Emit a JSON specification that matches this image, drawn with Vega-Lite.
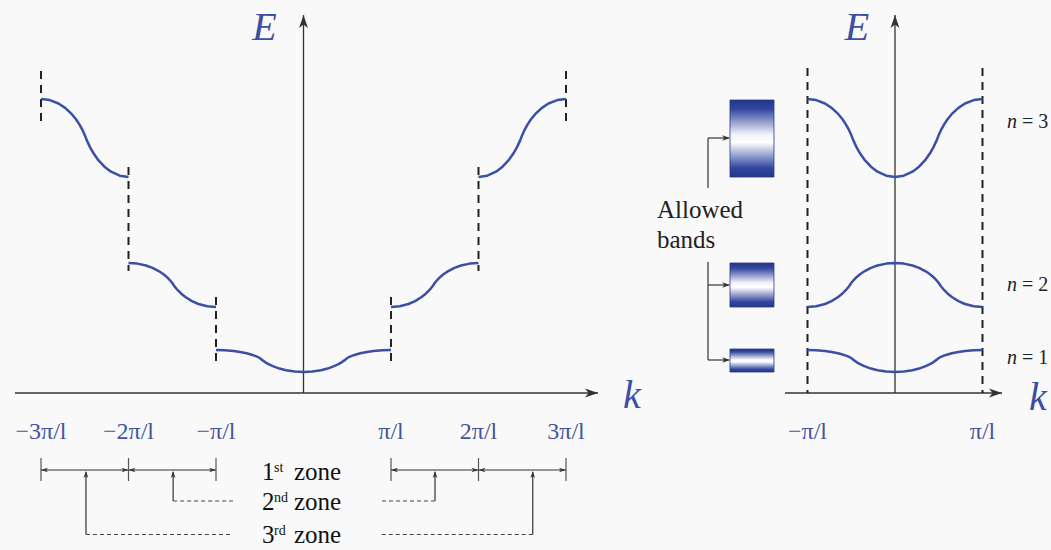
{
 "$schema": "https://vega.github.io/schema/vega-lite/v6.json",
 "padding": 0,
 "spacing": 0,
 "bounds": "flush",
 "background": "#f9f9fa",
 "config": {"view": {"stroke": null}, "font": "Liberation Serif"},
 "datasets": {
  "axesL": [{"k": -3.297, "k2": 3.366, "E": 0, "E2": 0}, {"k": 0, "k2": 0, "E": 0, "E2": 378}],
  "arrowsL": [{"k": 3.366, "E": 0, "dir": "right"}, {"k": 0, "E": 378, "dir": "up"}],
  "dashL": [
   {"k": -3, "E": 322, "E2": 270}, {"k": 3, "E": 322, "E2": 270},
   {"k": -2, "E": 226, "E2": 122}, {"k": 2, "E": 226, "E2": 122},
   {"k": -1, "E": 96, "E2": 30}, {"k": 1, "E": 96, "E2": 30}
  ],
  "curvesL": [
   {"s":"z3L","k":-3,"E":294},{"s":"z3L","k":-2.9,"E":292.89},{"s":"z3L","k":-2.8,"E":289.47},{"s":"z3L","k":-2.725,"E":285.17},{"s":"z3L","k":-2.65,"E":279.07},{"s":"z3L","k":-2.6,"E":273.7},{"s":"z3L","k":-2.56,"E":268.41},{"s":"z3L","k":-2.525,"E":262.8},{"s":"z3L","k":-2.5,"E":258},{"s":"z3L","k":-2.475,"E":252.4},{"s":"z3L","k":-2.44,"E":245.85},{"s":"z3L","k":-2.4,"E":239.68},{"s":"z3L","k":-2.35,"E":233.42},{"s":"z3L","k":-2.275,"E":226.3},{"s":"z3L","k":-2.2,"E":221.29},{"s":"z3L","k":-2.1,"E":217.29},{"s":"z3L","k":-2,"E":216},
   {"s":"z2L","k":-2,"E":130},{"s":"z2L","k":-1.9,"E":129.38},{"s":"z2L","k":-1.8,"E":127.48},{"s":"z2L","k":-1.725,"E":125.1},{"s":"z2L","k":-1.65,"E":121.7},{"s":"z2L","k":-1.6,"E":118.72},{"s":"z2L","k":-1.56,"E":115.79},{"s":"z2L","k":-1.525,"E":112.67},{"s":"z2L","k":-1.5,"E":110},{"s":"z2L","k":-1.475,"E":106.8},{"s":"z2L","k":-1.44,"E":103.06},{"s":"z2L","k":-1.4,"E":99.53},{"s":"z2L","k":-1.35,"E":95.96},{"s":"z2L","k":-1.275,"E":91.88},{"s":"z2L","k":-1.2,"E":89.02},{"s":"z2L","k":-1.1,"E":86.74},{"s":"z2L","k":-1,"E":86},
   {"s":"z1","k":-1,"E":43},{"s":"z1","k":-0.9,"E":42.75},{"s":"z1","k":-0.8,"E":41.99},{"s":"z1","k":-0.725,"E":41.04},{"s":"z1","k":-0.65,"E":39.68},{"s":"z1","k":-0.6,"E":38.49},{"s":"z1","k":-0.56,"E":37.31},{"s":"z1","k":-0.525,"E":36.07},{"s":"z1","k":-0.5,"E":35},{"s":"z1","k":-0.475,"E":33.13},{"s":"z1","k":-0.44,"E":30.95},{"s":"z1","k":-0.4,"E":28.89},{"s":"z1","k":-0.35,"E":26.81},{"s":"z1","k":-0.275,"E":24.43},{"s":"z1","k":-0.2,"E":22.76},{"s":"z1","k":-0.1,"E":21.43},{"s":"z1","k":0,"E":21},{"s":"z1","k":0.1,"E":21.43},{"s":"z1","k":0.2,"E":22.76},{"s":"z1","k":0.275,"E":24.43},{"s":"z1","k":0.35,"E":26.81},{"s":"z1","k":0.4,"E":28.89},{"s":"z1","k":0.44,"E":30.95},{"s":"z1","k":0.475,"E":33.13},{"s":"z1","k":0.5,"E":35},{"s":"z1","k":0.525,"E":36.07},{"s":"z1","k":0.56,"E":37.31},{"s":"z1","k":0.6,"E":38.49},{"s":"z1","k":0.65,"E":39.68},{"s":"z1","k":0.725,"E":41.04},{"s":"z1","k":0.8,"E":41.99},{"s":"z1","k":0.9,"E":42.75},{"s":"z1","k":1,"E":43},
   {"s":"z2R","k":1,"E":86},{"s":"z2R","k":1.1,"E":86.74},{"s":"z2R","k":1.2,"E":89.02},{"s":"z2R","k":1.275,"E":91.88},{"s":"z2R","k":1.35,"E":95.96},{"s":"z2R","k":1.4,"E":99.53},{"s":"z2R","k":1.44,"E":103.06},{"s":"z2R","k":1.475,"E":106.8},{"s":"z2R","k":1.5,"E":110},{"s":"z2R","k":1.525,"E":112.67},{"s":"z2R","k":1.56,"E":115.79},{"s":"z2R","k":1.6,"E":118.72},{"s":"z2R","k":1.65,"E":121.7},{"s":"z2R","k":1.725,"E":125.1},{"s":"z2R","k":1.8,"E":127.48},{"s":"z2R","k":1.9,"E":129.38},{"s":"z2R","k":2,"E":130},
   {"s":"z3R","k":2,"E":216},{"s":"z3R","k":2.1,"E":217.29},{"s":"z3R","k":2.2,"E":221.29},{"s":"z3R","k":2.275,"E":226.3},{"s":"z3R","k":2.35,"E":233.42},{"s":"z3R","k":2.4,"E":239.68},{"s":"z3R","k":2.44,"E":245.85},{"s":"z3R","k":2.475,"E":252.4},{"s":"z3R","k":2.5,"E":258},{"s":"z3R","k":2.525,"E":262.8},{"s":"z3R","k":2.56,"E":268.41},{"s":"z3R","k":2.6,"E":273.7},{"s":"z3R","k":2.65,"E":279.07},{"s":"z3R","k":2.725,"E":285.17},{"s":"z3R","k":2.8,"E":289.47},{"s":"z3R","k":2.9,"E":292.89},{"s":"z3R","k":3,"E":294}
  ],
  "ticksL": [{"k": -3, "E": -39, "t": "−3π/l"}, {"k": -2, "E": -39, "t": "−2π/l"}, {"k": -1, "E": -39, "t": "−π/l"}, {"k": 1, "E": -39, "t": "π/l"}, {"k": 2, "E": -39, "t": "2π/l"}, {"k": 3, "E": -39, "t": "3π/l"}],
  "brH": [{"k": -3, "k2": -2, "E": -77, "E2": -77}, {"k": -2, "k2": -1, "E": -77, "E2": -77}, {"k": 1, "k2": 2, "E": -77, "E2": -77}, {"k": 2, "k2": 3, "E": -77, "E2": -77}],
  "brV": [{"k": -3, "E": -65, "E2": -88}, {"k": -2, "E": -65, "E2": -88}, {"k": -1, "E": -65, "E2": -88}, {"k": 1, "E": -65, "E2": -88}, {"k": 2, "E": -65, "E2": -88}, {"k": 3, "E": -65, "E2": -88}],
  "brA": [
   {"k": -3, "E": -77, "dir": "left"}, {"k": -2, "E": -77, "dir": "right"}, {"k": -2, "E": -77, "dir": "left"}, {"k": -1, "E": -77, "dir": "right"},
   {"k": 1, "E": -77, "dir": "left"}, {"k": 2, "E": -77, "dir": "right"}, {"k": 2, "E": -77, "dir": "left"}, {"k": 3, "E": -77, "dir": "right"},
   {"k": -1.49, "E": -78, "dir": "up"}, {"k": 1.503, "E": -78, "dir": "up"}, {"k": -2.486, "E": -78, "dir": "up"}, {"k": 2.62, "E": -78, "dir": "up"}
  ],
  "ptV": [{"k": -1.49, "E": -79, "E2": -108}, {"k": 1.503, "E": -79, "E2": -108}, {"k": -2.486, "E": -79, "E2": -141.5}, {"k": 2.62, "E": -79, "E2": -141.5}],
  "ptD": [{"k": -1.49, "k2": -0.806, "E": -108, "E2": -108}, {"k": -2.486, "k2": -0.806, "E": -141.5, "E2": -141.5}, {"k": 1.503, "k2": 0.874, "E": -108, "E2": -108}, {"k": 2.62, "k2": 0.874, "E": -141.5, "E2": -141.5}],
  "zNum": [{"k": -0.474, "E": -87, "t": "1"}, {"k": -0.474, "E": -117, "t": "2"}, {"k": -0.474, "E": -150, "t": "3"}],
  "zSup": [{"k": -0.337, "E": -79, "t": "st"}, {"k": -0.337, "E": -109, "t": "nd"}, {"k": -0.337, "E": -142, "t": "rd"}],
  "zWord": [{"k": -0.109, "E": -87, "t": "zone"}, {"k": -0.109, "E": -117, "t": "zone"}, {"k": -0.109, "E": -150, "t": "zone"}],
  "lblL": [{"k": -0.446, "E": 353, "t": "E"}, {"k": 3.754, "E": -15, "t": "k"}],
  "axesR": [{"k": -1.257, "k2": 1.223, "E": 0, "E2": 0}, {"k": 0, "k2": 0, "E": 0, "E2": 378}],
  "arrowsR": [{"k": 1.223, "E": 0, "dir": "right"}, {"k": 0, "E": 378, "dir": "up"}],
  "dashR": [{"k": -1, "E": 325, "E2": 0}, {"k": 1, "E": 325, "E2": 0}],
  "curvesR": [
   {"s":"n1","k":-1,"E":43},{"s":"n1","k":-0.9,"E":42.75},{"s":"n1","k":-0.8,"E":41.99},{"s":"n1","k":-0.725,"E":41.04},{"s":"n1","k":-0.65,"E":39.68},{"s":"n1","k":-0.6,"E":38.49},{"s":"n1","k":-0.56,"E":37.31},{"s":"n1","k":-0.525,"E":36.07},{"s":"n1","k":-0.5,"E":35},{"s":"n1","k":-0.475,"E":33.13},{"s":"n1","k":-0.44,"E":30.95},{"s":"n1","k":-0.4,"E":28.89},{"s":"n1","k":-0.35,"E":26.81},{"s":"n1","k":-0.275,"E":24.43},{"s":"n1","k":-0.2,"E":22.76},{"s":"n1","k":-0.1,"E":21.43},{"s":"n1","k":0,"E":21},{"s":"n1","k":0.1,"E":21.43},{"s":"n1","k":0.2,"E":22.76},{"s":"n1","k":0.275,"E":24.43},{"s":"n1","k":0.35,"E":26.81},{"s":"n1","k":0.4,"E":28.89},{"s":"n1","k":0.44,"E":30.95},{"s":"n1","k":0.475,"E":33.13},{"s":"n1","k":0.5,"E":35},{"s":"n1","k":0.525,"E":36.07},{"s":"n1","k":0.56,"E":37.31},{"s":"n1","k":0.6,"E":38.49},{"s":"n1","k":0.65,"E":39.68},{"s":"n1","k":0.725,"E":41.04},{"s":"n1","k":0.8,"E":41.99},{"s":"n1","k":0.9,"E":42.75},{"s":"n1","k":1,"E":43},
   {"s":"n2","k":-1,"E":86},{"s":"n2","k":-0.9,"E":86.74},{"s":"n2","k":-0.8,"E":89.02},{"s":"n2","k":-0.725,"E":91.88},{"s":"n2","k":-0.65,"E":95.96},{"s":"n2","k":-0.6,"E":99.53},{"s":"n2","k":-0.56,"E":103.06},{"s":"n2","k":-0.525,"E":106.8},{"s":"n2","k":-0.5,"E":110},{"s":"n2","k":-0.475,"E":112.67},{"s":"n2","k":-0.44,"E":115.79},{"s":"n2","k":-0.4,"E":118.72},{"s":"n2","k":-0.35,"E":121.7},{"s":"n2","k":-0.275,"E":125.1},{"s":"n2","k":-0.2,"E":127.48},{"s":"n2","k":-0.1,"E":129.38},{"s":"n2","k":0,"E":130},{"s":"n2","k":0.1,"E":129.38},{"s":"n2","k":0.2,"E":127.48},{"s":"n2","k":0.275,"E":125.1},{"s":"n2","k":0.35,"E":121.7},{"s":"n2","k":0.4,"E":118.72},{"s":"n2","k":0.44,"E":115.79},{"s":"n2","k":0.475,"E":112.67},{"s":"n2","k":0.5,"E":110},{"s":"n2","k":0.525,"E":106.8},{"s":"n2","k":0.56,"E":103.06},{"s":"n2","k":0.6,"E":99.53},{"s":"n2","k":0.65,"E":95.96},{"s":"n2","k":0.725,"E":91.88},{"s":"n2","k":0.8,"E":89.02},{"s":"n2","k":0.9,"E":86.74},{"s":"n2","k":1,"E":86},
   {"s":"n3","k":-1,"E":294},{"s":"n3","k":-0.9,"E":292.89},{"s":"n3","k":-0.8,"E":289.47},{"s":"n3","k":-0.725,"E":285.17},{"s":"n3","k":-0.65,"E":279.07},{"s":"n3","k":-0.6,"E":273.7},{"s":"n3","k":-0.56,"E":268.41},{"s":"n3","k":-0.525,"E":262.8},{"s":"n3","k":-0.5,"E":258},{"s":"n3","k":-0.475,"E":252.4},{"s":"n3","k":-0.44,"E":245.85},{"s":"n3","k":-0.4,"E":239.68},{"s":"n3","k":-0.35,"E":233.42},{"s":"n3","k":-0.275,"E":226.3},{"s":"n3","k":-0.2,"E":221.29},{"s":"n3","k":-0.1,"E":217.29},{"s":"n3","k":0,"E":216},{"s":"n3","k":0.1,"E":217.29},{"s":"n3","k":0.2,"E":221.29},{"s":"n3","k":0.275,"E":226.3},{"s":"n3","k":0.35,"E":233.42},{"s":"n3","k":0.4,"E":239.68},{"s":"n3","k":0.44,"E":245.85},{"s":"n3","k":0.475,"E":252.4},{"s":"n3","k":0.5,"E":258},{"s":"n3","k":0.525,"E":262.8},{"s":"n3","k":0.56,"E":268.41},{"s":"n3","k":0.6,"E":273.7},{"s":"n3","k":0.65,"E":279.07},{"s":"n3","k":0.725,"E":285.17},{"s":"n3","k":0.8,"E":289.47},{"s":"n3","k":0.9,"E":292.89},{"s":"n3","k":1,"E":294}
  ],
  "boxes": [{"k": -1.886, "k2": -1.383, "E": 293, "E2": 216}, {"k": -1.886, "k2": -1.383, "E": 130, "E2": 86}, {"k": -1.886, "k2": -1.383, "E": 44, "E2": 21}],
  "conn": [
   {"k": -2.137, "k2": -2.137, "E": 255, "E2": 205},
   {"k": -2.137, "k2": -1.9, "E": 255, "E2": 255},
   {"k": -2.137, "k2": -2.137, "E": 131, "E2": 33},
   {"k": -2.137, "k2": -1.9, "E": 108, "E2": 108},
   {"k": -2.137, "k2": -1.9, "E": 33, "E2": 33}
  ],
  "connA": [{"k": -1.886, "E": 255, "dir": "right"}, {"k": -1.886, "E": 108, "dir": "right"}, {"k": -1.886, "E": 33, "dir": "right"}],
  "allowed": [{"k": -2.72, "E": 175, "t": "Allowed"}, {"k": -2.72, "E": 145, "t": "bands"}],
  "nItal": [{"k": 1.28, "E": 271, "t": "n"}, {"k": 1.28, "E": 108, "t": "n"}, {"k": 1.28, "E": 35, "t": "n"}],
  "nRest": [{"k": 1.451, "E": 271, "t": "= 3"}, {"k": 1.451, "E": 108, "t": "= 2"}, {"k": 1.451, "E": 35, "t": "= 1"}],
  "ticksR": [{"k": -1, "E": -39, "t": "−π/l"}, {"k": 1, "E": -39, "t": "π/l"}],
  "lblR": [{"k": -0.434, "E": 353, "t": "E"}, {"k": 1.634, "E": -17, "t": "k"}]
 },
 "hconcat": [
  {
   "width": 650,
   "height": 550,
   "encoding": {
    "x": {"field": "k", "type": "quantitative", "scale": {"domain": [-3.4686, 3.96], "nice": false, "zero": false}, "axis": null},
    "y": {"field": "E", "type": "quantitative", "scale": {"domain": [-157, 393], "nice": false, "zero": false}, "axis": null}
   },
   "layer": [
    {"data": {"name": "axesL"}, "mark": {"type": "rule", "color": "#333333", "strokeWidth": 1.3}, "encoding": {"x2": {"field": "k2"}, "y2": {"field": "E2"}}},
    {"data": {"name": "arrowsL"}, "mark": {"type": "point", "filled": true, "color": "#333333", "opacity": 1, "size": 140},
     "encoding": {"shape": {"field": "dir", "type": "nominal", "legend": null, "scale": {"domain": ["right", "up", "left"], "range": ["M0,0L-2.2,-0.75L-1.6,0L-2.2,0.75Z", "M0,0L-0.75,2.2L0,1.6L0.75,2.2Z", "M0,0L2.2,-0.75L1.6,0L2.2,0.75Z"]}}}},
    {"data": {"name": "dashL"}, "mark": {"type": "rule", "color": "#222222", "strokeWidth": 2, "strokeDash": [8, 6]}, "encoding": {"y2": {"field": "E2"}}},
    {"data": {"name": "curvesL"}, "mark": {"type": "line", "color": "#3c4fa5", "strokeWidth": 2.5, "strokeJoin": "round"}, "encoding": {"detail": {"field": "s"}}},
    {"data": {"name": "ticksL"}, "mark": {"type": "text", "color": "#44549c", "fontSize": 24, "font": "Liberation Serif", "baseline": "middle", "align": "center"}, "encoding": {"text": {"field": "t"}}},
    {"data": {"name": "brH"}, "mark": {"type": "rule", "color": "#333333", "strokeWidth": 1.2}, "encoding": {"x2": {"field": "k2"}, "y2": {"field": "E2"}}},
    {"data": {"name": "brV"}, "mark": {"type": "rule", "color": "#555555", "strokeWidth": 1.2}, "encoding": {"y2": {"field": "E2"}}},
    {"data": {"name": "brA"}, "mark": {"type": "point", "filled": true, "color": "#333333", "opacity": 1, "size": 40},
     "encoding": {"shape": {"field": "dir", "type": "nominal", "legend": null, "scale": {"domain": ["right", "up", "left"], "range": ["M0,0L-2.2,-0.75L-1.6,0L-2.2,0.75Z", "M0,0L-0.75,2.2L0,1.6L0.75,2.2Z", "M0,0L2.2,-0.75L1.6,0L2.2,0.75Z"]}}}},
    {"data": {"name": "ptV"}, "mark": {"type": "rule", "color": "#333333", "strokeWidth": 1.2}, "encoding": {"y2": {"field": "E2"}}},
    {"data": {"name": "ptD"}, "mark": {"type": "rule", "color": "#444444", "strokeWidth": 1.1, "strokeDash": [4, 3]}, "encoding": {"x2": {"field": "k2"}, "y2": {"field": "E2"}}},
    {"data": {"name": "zNum"}, "mark": {"type": "text", "color": "#111111", "fontSize": 25, "font": "Liberation Serif", "align": "left", "baseline": "alphabetic"}, "encoding": {"text": {"field": "t"}}},
    {"data": {"name": "zSup"}, "mark": {"type": "text", "color": "#111111", "fontSize": 14, "font": "Liberation Serif", "align": "left", "baseline": "alphabetic"}, "encoding": {"text": {"field": "t"}}},
    {"data": {"name": "zWord"}, "mark": {"type": "text", "color": "#111111", "fontSize": 25, "font": "Liberation Serif", "align": "left", "baseline": "alphabetic"}, "encoding": {"text": {"field": "t"}}},
    {"data": {"name": "lblL"}, "mark": {"type": "text", "color": "#3c4fa5", "fontSize": 40, "font": "Liberation Serif", "fontStyle": "italic", "align": "center", "baseline": "alphabetic"}, "encoding": {"text": {"field": "t"}}}
   ]
  },
  {
   "width": 401,
   "height": 550,
   "encoding": {
    "x": {"field": "k", "type": "quantitative", "scale": {"domain": [-2.8, 1.7829], "nice": false, "zero": false}, "axis": null},
    "y": {"field": "E", "type": "quantitative", "scale": {"domain": [-157, 393], "nice": false, "zero": false}, "axis": null}
   },
   "layer": [
    {"data": {"name": "axesR"}, "mark": {"type": "rule", "color": "#333333", "strokeWidth": 1.3}, "encoding": {"x2": {"field": "k2"}, "y2": {"field": "E2"}}},
    {"data": {"name": "arrowsR"}, "mark": {"type": "point", "filled": true, "color": "#333333", "opacity": 1, "size": 140},
     "encoding": {"shape": {"field": "dir", "type": "nominal", "legend": null, "scale": {"domain": ["right", "up", "left"], "range": ["M0,0L-2.2,-0.75L-1.6,0L-2.2,0.75Z", "M0,0L-0.75,2.2L0,1.6L0.75,2.2Z", "M0,0L2.2,-0.75L1.6,0L2.2,0.75Z"]}}}},
    {"data": {"name": "dashR"}, "mark": {"type": "rule", "color": "#222222", "strokeWidth": 2, "strokeDash": [8, 6]}, "encoding": {"y2": {"field": "E2"}}},
    {"data": {"name": "boxes"}, "mark": {"type": "rect", "stroke": "#2a3880", "strokeWidth": 0.8,
      "fill": {"gradient": "linear", "x1": 0, "y1": 0, "x2": 0, "y2": 1, "stops": [{"offset": 0, "color": "#24358a"}, {"offset": 0.12, "color": "#3447a0"}, {"offset": 0.45, "color": "#f2f3fa"}, {"offset": 0.55, "color": "#ffffff"}, {"offset": 0.88, "color": "#3447a0"}, {"offset": 1, "color": "#24358a"}]}},
     "encoding": {"x2": {"field": "k2"}, "y2": {"field": "E2"}}},
    {"data": {"name": "conn"}, "mark": {"type": "rule", "color": "#333333", "strokeWidth": 1.2}, "encoding": {"x2": {"field": "k2"}, "y2": {"field": "E2"}}},
    {"data": {"name": "connA"}, "mark": {"type": "point", "filled": true, "color": "#333333", "opacity": 1, "size": 50},
     "encoding": {"shape": {"field": "dir", "type": "nominal", "legend": null, "scale": {"domain": ["right", "up", "left"], "range": ["M0,0L-2.2,-0.75L-1.6,0L-2.2,0.75Z", "M0,0L-0.75,2.2L0,1.6L0.75,2.2Z", "M0,0L2.2,-0.75L1.6,0L2.2,0.75Z"]}}}},
    {"data": {"name": "curvesR"}, "mark": {"type": "line", "color": "#3c4fa5", "strokeWidth": 2.5, "strokeJoin": "round"}, "encoding": {"detail": {"field": "s"}}},
    {"data": {"name": "allowed"}, "mark": {"type": "text", "color": "#222222", "fontSize": 25, "font": "Liberation Serif", "align": "left", "baseline": "alphabetic"}, "encoding": {"text": {"field": "t"}}},
    {"data": {"name": "nItal"}, "mark": {"type": "text", "color": "#222222", "fontSize": 20, "font": "Liberation Serif", "fontStyle": "italic", "align": "left", "baseline": "middle"}, "encoding": {"text": {"field": "t"}}},
    {"data": {"name": "nRest"}, "mark": {"type": "text", "color": "#222222", "fontSize": 20, "font": "Liberation Serif", "align": "left", "baseline": "middle"}, "encoding": {"text": {"field": "t"}}},
    {"data": {"name": "ticksR"}, "mark": {"type": "text", "color": "#44549c", "fontSize": 24, "font": "Liberation Serif", "baseline": "middle", "align": "center"}, "encoding": {"text": {"field": "t"}}},
    {"data": {"name": "lblR"}, "mark": {"type": "text", "color": "#3c4fa5", "fontSize": 40, "font": "Liberation Serif", "fontStyle": "italic", "align": "center", "baseline": "alphabetic"}, "encoding": {"text": {"field": "t"}}}
   ]
  }
 ]
}
